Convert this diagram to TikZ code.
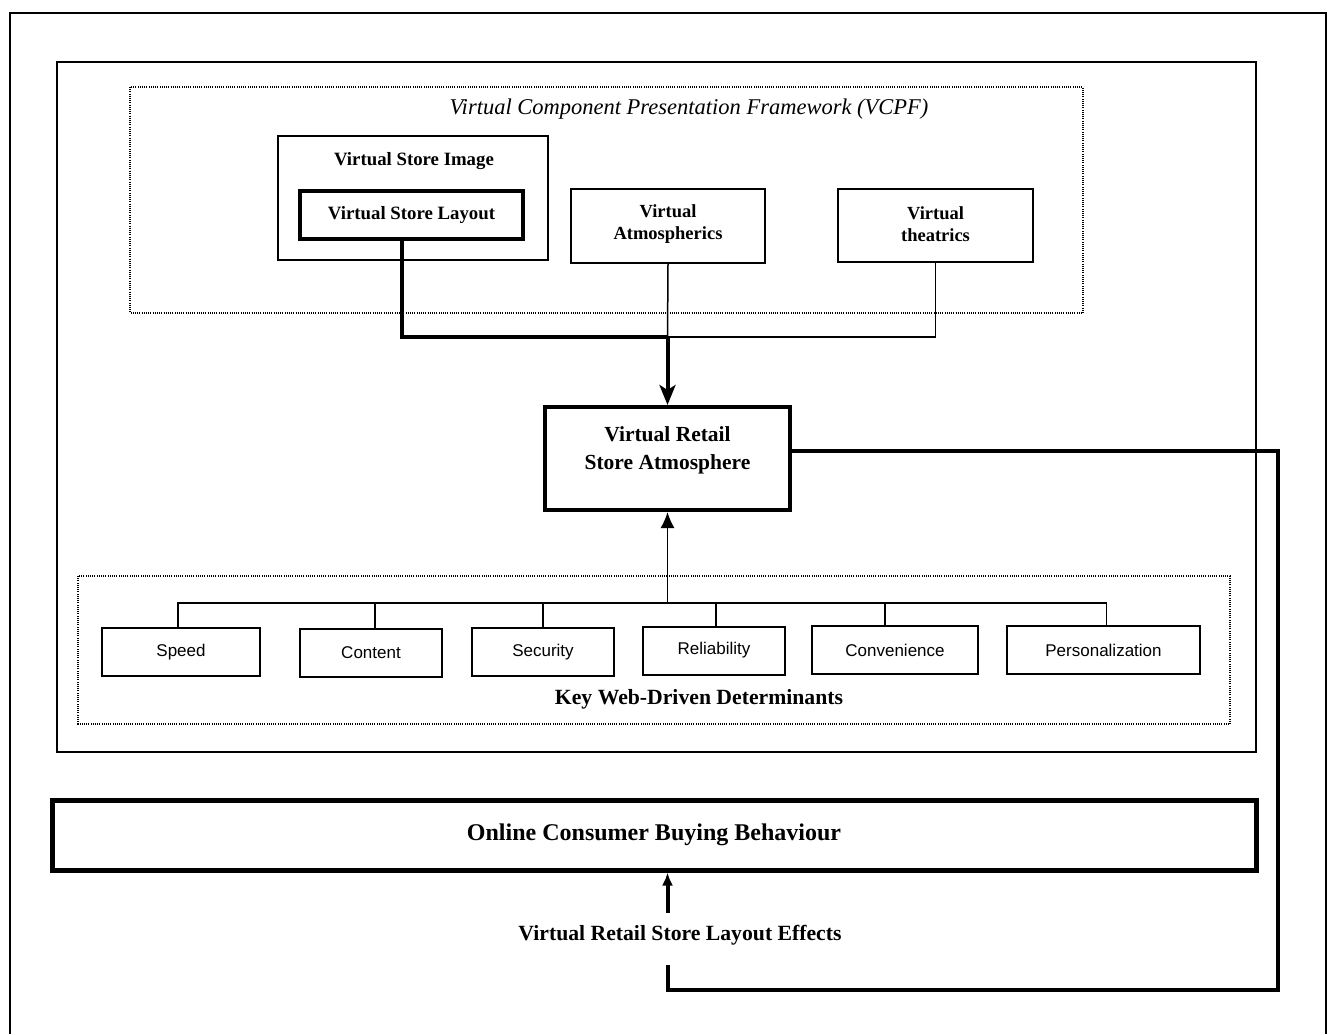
\documentclass[tikz,border=0pt]{standalone}
\usepackage{fontspec}
\setmainfont{Liberation Serif}
\newfontfamily\detfont{Liberation Sans}
\usetikzlibrary{arrows.meta,positioning,calc}

\tikzset{
  frameline/.style={line width=1.8pt},
  dotbox/.style={line width=1.4pt, dash pattern=on 0.9pt off 1.3pt},
  thinbox/.style={draw, line width=1.5pt, inner sep=0pt},
  heavybox/.style={draw, line width=4.5pt, inner sep=0pt, align=center,
                  font=\fontsize{18.8}{22}\selectfont\bfseries},
  boxtext/.style={inner sep=0pt, align=center,
                  font=\fontsize{18.5}{22}\selectfont\bfseries},
  detbox/.style={draw, line width=2pt, inner sep=0pt, minimum height=48pt,
                 font=\detfont\fontsize{17}{19}\selectfont},
  thinline/.style={line width=1.5pt},
  heavyline/.style={line width=4pt},
  caption/.style={inner sep=0pt, font=\fontsize{21.7}{24}\selectfont\bfseries}
}

\begin{document}
\begin{tikzpicture}[x=1pt,y=-1pt]
\useasboundingbox (0,0) rectangle (1329,1034);

% outer and inner frames
\draw[frameline] (10,1034) -- (10,13) -- (1326,13) -- (1326,1034);
\draw[frameline] (57,62) rectangle (1256,752);

% VCPF group
\draw[dotbox] (130,87) rectangle (1083,313);
\node[inner sep=0pt, font=\fontsize{22.5}{24}\selectfont\itshape] (vcpf) at (689,109)
  {Virtual Component Presentation Framework (VCPF)};

\node[thinbox, minimum width=270pt, minimum height=124pt] (img) at (413,198) {};
\node[boxtext, font=\fontsize{18.8}{22}\selectfont\bfseries] (imgt) at (414,161) {Virtual Store Image};
\node[heavybox, minimum width=223pt, minimum height=48pt] (lay) at (411.5,215) {Virtual Store Layout};
\node[thinbox, minimum width=194pt, minimum height=74pt] (atm) at (668,226) {};
\node[boxtext] (atmt) at ([yshift=1.5pt]atm.center) {Virtual\\Atmospherics};
\node[thinbox, minimum width=195pt, minimum height=73pt] (thea) at (935.5,225.5) {};
\node[boxtext] (theat) at ([yshift=1.5pt]thea.center) {Virtual\\theatrics};

% central node
\node[heavybox, line width=4pt, minimum width=245pt, minimum height=103pt] (ret) at (667.5,458.5) {};
\node[boxtext, font=\fontsize{21.5}{28}\selectfont\bfseries] (rett) at ([yshift=8pt]ret.center)
  {Virtual Retail\\Store Atmosphere};

\coordinate (jn) at (667.5,337);
\draw[heavyline] ([xshift=-10pt]lay.south) |- (jn);
\draw[thinline] (atm.south) -- (jn);
\draw[thinline] (thea.south) |- (jn);
\draw[heavyline, -{Stealth[length=20pt, width=16pt, inset=5pt]}] (jn) -- (ret.north);

% determinants
\draw[dotbox] (78,576) rectangle (1230,724);
\node[detbox, minimum width=158pt] (speed) at (181,652) {Speed};
\node[detbox, minimum width=142pt] (cont) at (371,652.5) {Content};
\node[detbox, minimum width=142pt] (sec) at (543,652) {Security};
\node[detbox, minimum width=142pt] (rel) at (714,650.5) {Reliability};
\node[detbox, minimum width=166pt] (conv) at (895,650) {Convenience};
\node[detbox, minimum width=193pt] (pers) at (1103.5,650) {Personalization};
\node[caption] (kwd) at (699,699) {Key Web-Driven Determinants};

\coordinate (bus) at (667.5,603);
\draw[thinline] ([xshift=-3pt]speed.north) |- (bus) -| ([xshift=3pt]pers.north);
\draw[thinline] ([xshift=4pt]cont.north) -- ([xshift=4pt]cont.north |- bus);
\draw[thinline] (sec.north) -- (sec.north |- bus);
\draw[thinline] ([xshift=2pt]rel.north) -- ([xshift=2pt]rel.north |- bus);
\draw[thinline] ([xshift=-10pt]conv.north) -- ([xshift=-10pt]conv.north |- bus);
\draw[thinline, -{Latex[length=16pt, width=14pt]}] (bus) -- (ret.south);

% consumer behaviour
\node[heavybox, line width=5pt, minimum width=1204pt, minimum height=70pt,
      font=\fontsize{24}{26}\selectfont\bfseries] (onl) at (654,835)
  {Online Consumer Buying Behaviour};
\node[caption] (eff) at (680,935) {Virtual Retail Store Layout Effects};

\draw[heavyline, -{Latex[length=13pt, width=11pt]}, shorten <=12pt]
  (eff.north -| ret.south) -- (onl.south -| ret.south);

% feedback loop
\coordinate (loopR) at (1278,990);
\draw[heavyline] ([yshift=8pt]ret.east) -| (loopR) -| ([yshift=-20pt]eff.south -| ret.south);
\end{tikzpicture}
\end{document}
